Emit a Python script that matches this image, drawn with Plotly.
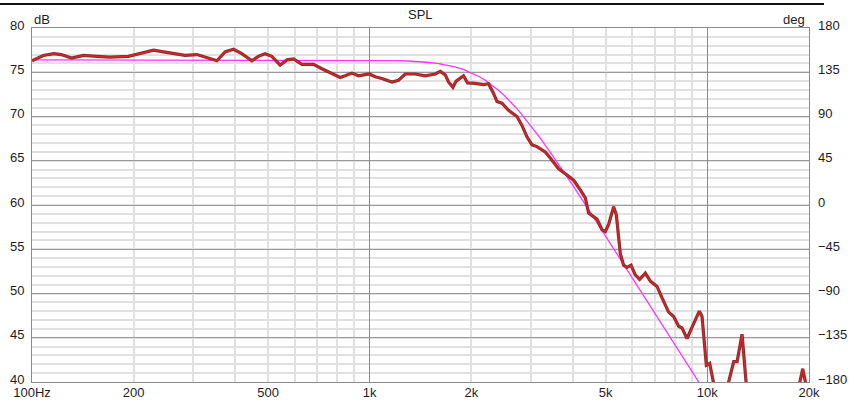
import plotly.graph_objects as go

# Measured SPL (Hz, dB)
freq_meas = [100, 108, 116, 122, 131, 142, 156, 170, 193, 209, 229, 245, 268, 284, 308, 329, 353,
             373, 395, 418, 448, 468, 490, 513, 543, 569, 595, 630, 682, 722, 773, 818, 846, 886,
             927, 959, 997, 1038, 1087, 1164, 1217, 1274, 1364, 1460, 1511, 1564, 1618, 1674, 1712,
             1764, 1804, 1854, 1896, 1949, 2054, 2174, 2249, 2327, 2382, 2464, 2578, 2730, 2825,
             2923, 3024, 3129, 3311, 3426, 3627, 3840, 4017, 4205, 4351, 4450, 4604, 4712, 4876,
             4987, 5101, 5278, 5376, 5524, 5649, 5782, 5941, 6118, 6302, 6551, 6778, 7096, 7342,
             7680, 7946, 8222, 8414, 8707, 9010, 9470, 9645, 9932, 10160, 10440, 10930, 11560,
             11970, 12250, 12670, 13020, 14360, 17620, 18830, 19160, 19520, 20000]
spl_meas = [76.3, 76.9, 77.1, 77.0, 76.6, 76.9, 76.8, 76.7, 76.8, 77.1, 77.5, 77.3, 77.1, 76.9, 77.0,
            76.7, 76.3, 77.3, 77.6, 77.1, 76.3, 76.8, 77.1, 76.8, 75.8, 76.4, 76.5, 75.9, 75.9,
            75.4, 74.9, 74.4, 74.6, 74.9, 74.6, 74.7, 74.8, 74.5, 74.3, 73.9, 74.1, 74.8, 74.8,
            74.6, 74.7, 74.8, 75.1, 74.7, 73.9, 73.3, 74.0, 74.3, 74.6, 73.8, 73.75, 73.6, 73.7,
            72.6, 71.7, 71.5, 70.7, 70.0, 69.0, 67.7, 66.8, 66.6, 66.0, 65.3, 64.1, 63.4, 62.8,
            61.7, 60.8, 59.1, 58.7, 58.4, 57.2, 57.0, 57.8, 59.8, 58.9, 54.5, 53.2, 52.96, 53.2,
            52.1, 51.6, 52.3, 51.4, 50.8, 49.5, 47.9, 47.4, 46.3, 46.1, 44.9, 46.2, 48.0, 47.4,
            41.9, 42.1, 40.0, 36.0, 40.0, 42.3, 42.3, 45.4, 40.0, 35.0, 35.0, 40.0, 41.5, 40.0, 37.0]

# Target curve (Hz, dB)
freq_target = [100, 500, 1000, 1200, 1300, 1400, 1500, 1600, 1700, 1800, 1900, 2000, 2100, 2200,
               2300, 2400, 2500, 2600, 2700, 2800, 3000, 3200, 3400, 3600, 3800, 4000, 4500, 5000,
               6000, 7000, 8000, 9000, 10000]
spl_target = [76.4, 76.4, 76.37, 76.32, 76.27, 76.2, 76.1, 75.97, 75.79, 75.57, 75.29, 74.95, 74.55,
              74.09, 73.57, 73.0, 72.4, 71.75, 71.08, 70.39, 68.98, 67.56, 66.15, 64.79, 63.46,
              62.18, 59.2, 56.48, 51.76, 47.76, 44.31, 41.21, 38.47]

x_tick_vals = [100, 200, 500, 1000, 2000, 5000, 10000, 20000]
x_tick_text = ["100Hz", "200", "500", "1k", "2k", "5k", "10k", "20k"]
x_major_grid = [100, 1000, 10000]
x_minor_grid = [200, 300, 400, 500, 600, 700, 800, 900,
                2000, 3000, 4000, 5000, 6000, 7000, 8000, 9000]
db_ticks = [40, 45, 50, 55, 60, 65, 70, 75, 80]
deg_ticks = [-180, -135, -90, -45, 0, 45, 90, 135, 180]

FONT = "Liberation Sans"
TXT = "#1c1c28"
XR = [2, 4.30103]

fig = go.Figure()
fig.add_trace(go.Scatter(x=freq_target, y=spl_target, mode="lines",
                         line=dict(color="#ff33ff", width=1.3), hoverinfo="skip", showlegend=False))
fig.add_trace(go.Scatter(x=freq_meas, y=spl_meas, mode="lines",
                         line=dict(color="#8f2a2a", width=3.2), hoverinfo="skip", showlegend=False))
fig.add_trace(go.Scatter(x=freq_meas, y=spl_meas, mode="lines",
                         line=dict(color="#d9262a", width=1.2), hoverinfo="skip", showlegend=False))
fig.add_trace(go.Scatter(x=[], y=[], xaxis="x2", yaxis="y2", showlegend=False, hoverinfo="skip"))

fig.update_layout(
    width=851, height=401,
    margin=dict(l=32, r=42, t=28, b=19),
    paper_bgcolor="white", plot_bgcolor="white",
    font=dict(family=FONT, size=13, color=TXT),
    showlegend=False,
    xaxis=dict(type="log", range=XR, tickmode="array", tickvals=x_tick_vals, ticktext=x_tick_text,
               showgrid=False, zeroline=False, ticks="", ticklabelstandoff=-2, automargin=False,
               showline=True, linecolor="#8c8c8c", linewidth=1, mirror=True,
               tickfont=dict(size=13, color=TXT),
               minor=dict(tickmode="array", tickvals=x_minor_grid, showgrid=True,
                          gridcolor="#e1e1e1", gridwidth=1.5, ticks="")),
    xaxis2=dict(type="log", range=XR, overlaying="x", side="bottom", tickmode="array",
                tickvals=x_major_grid, showticklabels=False, showgrid=True, automargin=False,
                gridcolor="#8a8a8a", gridwidth=1, zeroline=False, ticks="", showline=False),
    yaxis=dict(range=[40, 80], tickmode="array", tickvals=db_ticks, showgrid=True,
               gridcolor="#9a9a9a", gridwidth=1, zeroline=False, ticks="", ticklabelstandoff=4,
               ticklabelshift=-3, automargin=False,
               showline=True, linecolor="#8c8c8c", linewidth=1, mirror=True,
               tickfont=dict(size=13, color=TXT),
               minor=dict(dtick=1, showgrid=True, gridcolor="#e1e1e1", gridwidth=1.5, ticks="")),
    yaxis2=dict(range=[-180, 180], overlaying="y", side="right", anchor="x2", tickmode="array",
                tickvals=deg_ticks, showgrid=False, zeroline=False, ticks="", ticklabelstandoff=8,
                ticklabelshift=-3, automargin=False,
                showline=False, tickfont=dict(size=13, color=TXT)),
    annotations=[
        dict(text="SPL", xref="paper", yref="paper", x=0.5, y=1.037, xanchor="center",
             yanchor="middle", showarrow=False, font=dict(size=13, color=TXT)),
        dict(text="dB", xref="paper", yref="paper", x=0.0, y=1.025, xanchor="left",
             yanchor="middle", showarrow=False, font=dict(size=13, color=TXT)),
        dict(text="deg", xref="paper", yref="paper", x=0.998, y=1.025, xanchor="right",
             yanchor="middle", showarrow=False, font=dict(size=13, color=TXT)),
    ],
    shapes=[
        dict(type="line", xref="paper", yref="paper", x0=-0.0412, x1=1.0193, y0=1.0678, y1=1.0678,
             line=dict(color="#111111", width=2)),
    ],
)

fig.write_html("out.html")
